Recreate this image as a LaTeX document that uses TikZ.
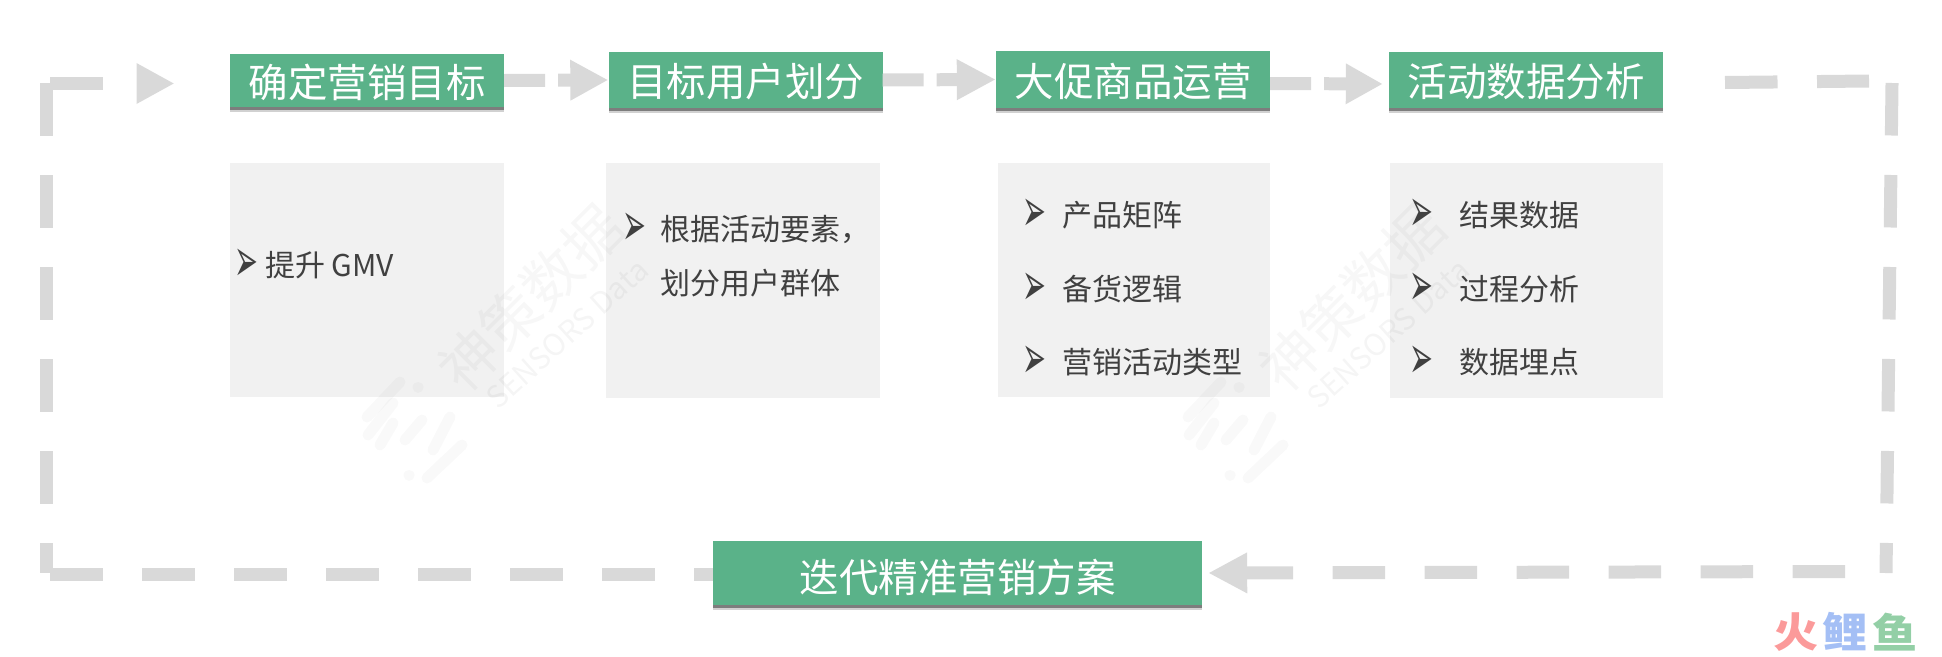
\documentclass[tikz,border=0pt]{standalone}
\usepackage{fontspec}
\setmainfont{Noto Sans CJK SC}
\newfontfamily\bulletfont{DejaVu Sans}
\usetikzlibrary{arrows.meta,shadows}

\definecolor{boxgreen}{HTML}{5AB289}
\definecolor{panelgray}{HTML}{F1F1F1}
\definecolor{flowgray}{HTML}{D9D9D9}
\definecolor{itemgray}{HTML}{404040}
\definecolor{logored}{HTML}{FB9A9A}
\definecolor{logoblue}{HTML}{A4BFF5}
\definecolor{logogreen}{HTML}{93CFA6}

\tikzset{
  titlebox/.style={fill=boxgreen, text=white, inner sep=0pt, minimum width=274pt,
    font=\fontsize{39.5}{39.5}\selectfont, text height=35pt, text depth=2pt,
    general shadow={shadow xshift=0pt, shadow yshift=-5pt, fill=black, opacity=.18},
    general shadow={shadow xshift=0pt, shadow yshift=-3pt, fill=black, opacity=.4}},
  panelbox/.style={fill=panelgray, inner sep=0pt},
  itemtext/.style={anchor=west, inner sep=0pt, text=itemgray, font=\fontsize{30}{30}\selectfont},
  itembullet/.style={inner sep=0pt, text=itemgray, xscale=.68, yscale=1.45, font=\bulletfont\fontsize{42}{42}\selectfont},
  flowline/.style={draw=flowgray, line width=13pt},
  flowhead/.style={-{Triangle[length=#1pt, width=38pt]}},
  stripe/.style={line width=11pt, line cap=round, draw=black, opacity=.025},
  logochar/.style={inner sep=0pt, xscale=1.1, font=\fontsize{41}{41}\selectfont\bfseries}
}

% faint mark behind the text
\newcommand{\faintmark}[1]{
\begin{scope}[xshift=#1pt]
\node[rotate=45, opacity=.03, inner sep=0pt, font=\fontsize{58}{58}\selectfont] (markcn#1) at (531,298) {神策数据};
\node[rotate=42, opacity=.04, inner sep=0pt, font=\fontsize{30}{30}\selectfont] (markla#1) at (567,334) {SENSORS Data};
\draw[stripe] (367,417) -- (400,382);
\draw[stripe] (368,435) -- (393,403);
\draw[stripe] (380,445) -- (393,423);
\draw[stripe] (405,440) -- (422,420);
\draw[stripe] (433,450) -- (450,417);
\draw[stripe] (427,478) -- (462,445);
\draw[stripe] (418,387) -- (418.1,387);
\draw[stripe] (409,475) -- (409.1,475);
\end{scope}
}

\begin{document}
\begin{tikzpicture}[x=1pt, y=-1pt]

\def\yia{215}; % first item row
\def\yib{289}; % second item row
\def\yic{362}; % third item row
\def\ytop{83.5}; % top of loop
\def\ybot{574.5}; % bottom of loop

\useasboundingbox (0,0) rectangle (1942,656);

% panels
\node[panelbox, minimum width=274pt, minimum height=234pt] (panelgoal) at (367,280) {};
\node[panelbox, minimum width=274pt, minimum height=235pt] (paneluser) at (743,280.5) {};
\node[panelbox, minimum width=272pt, minimum height=234pt] (panelgoods) at (1134,280) {};
\node[panelbox, minimum width=273pt, minimum height=235pt] (paneldata) at (1526.5,280.5) {};

\faintmark{0}
\faintmark{821}

% titles
\node[titlebox, minimum height=52.5pt] (goal) at (367,80.5) {确定营销目标};
\node[titlebox, minimum height=56pt] (user) at (745.5,80) {目标用户划分};
\node[titlebox, minimum height=56.5pt] (goods) at (1133,79.5) {大促商品运营};
\node[titlebox, minimum height=56pt] (data) at (1526,80) {活动数据分析};
\node[titlebox, minimum width=489pt, minimum height=64pt, text height=40pt] (plan) at (957.5,573) {迭代精准营销方案};

% free ends of the loop
\coordinate (looptl) at (50,\ytop);
\coordinate (headtl) at (174.5,\ytop);
\coordinate (lefttop) at (46.5,83);
\coordinate (leftbot) at (46.5,573);
\coordinate (loopbl) at (50,\ybot);
\coordinate (toprstart) at (1725,82.5);
\coordinate (toprend) at (1869,81);
\coordinate (righttop) at (1892,83);
\coordinate (rightbot) at (1886,573);
\coordinate (loopbr) at (1845,571.5);

\draw[flowline, flowhead=38, dash pattern=on 52.5pt off 40pt] (looptl) -- (headtl);
\draw[flowline, flowhead=38, dash pattern=on 41pt off 13pt] (goal.east) -- (user.west);
\draw[flowline, flowhead=39, dash pattern=on 41pt off 13pt] (user.east) -- (goods.west);
\draw[flowline, flowhead=37, dash pattern=on 41pt off 13pt, shorten >=6pt] ([yshift=-4pt]goods.east) -- ([yshift=-4pt]data.west);
\draw[flowline, dash pattern=on 52.5pt off 39.5pt] (toprstart) -- (toprend);
\draw[flowline, dash pattern=on 52.5pt off 39.5pt] (righttop) -- (rightbot);
\draw[flowline, flowhead=39, dash pattern=on 52.5pt off 39.5pt, shorten >=6pt] (loopbr) -- (plan.east);
\draw[flowline, dash pattern=on 52.5pt off 39.5pt] (lefttop) -- (leftbot);

% bottom run goes in under the box
\draw[flowline, dash pattern=on 52.5pt off 39.5pt] (loopbl) -- ([yshift=-1.5pt]plan.west);

% items
\node[itembullet] (bulleta) at (246.5,265) {➢};
\node[itemtext] (itema) at (265,265) {提升 GMV};

\node[itembullet] (bulletb) at (634,229) {➢};
\node[itemtext] (itemb) at (660,229) {根据活动要素，};
\node[itemtext] (itembb) at (660,283) {划分用户群体};

\node[itembullet] (bulletc) at (1034.5,\yia) {➢};
\node[itemtext] (itemc) at (1062,\yia) {产品矩阵};
\node[itembullet] (bulletd) at (1034.5,\yib) {➢};
\node[itemtext] (itemd) at (1062,\yib) {备货逻辑};
\node[itembullet] (bullete) at (1034.5,\yic) {➢};
\node[itemtext] (iteme) at (1062,\yic) {营销活动类型};

\node[itembullet] (bulletf) at (1421.5,\yia) {➢};
\node[itemtext] (itemf) at (1459,\yia) {结果数据};
\node[itembullet] (bulletg) at (1421.5,\yib) {➢};
\node[itemtext] (itemg) at (1459,\yib) {过程分析};
\node[itembullet] (bulleth) at (1421.5,\yic) {➢};
\node[itemtext] (itemh) at (1459,\yic) {数据埋点};

% logo
\node[logochar, text=logored] (logoa) at (1796,632) {火};
\node[logochar, text=logoblue] (logob) at (1845.5,632) {鲤};
\node[logochar, text=logogreen] (logoc) at (1895,632) {鱼};

\end{tikzpicture}
\end{document}
